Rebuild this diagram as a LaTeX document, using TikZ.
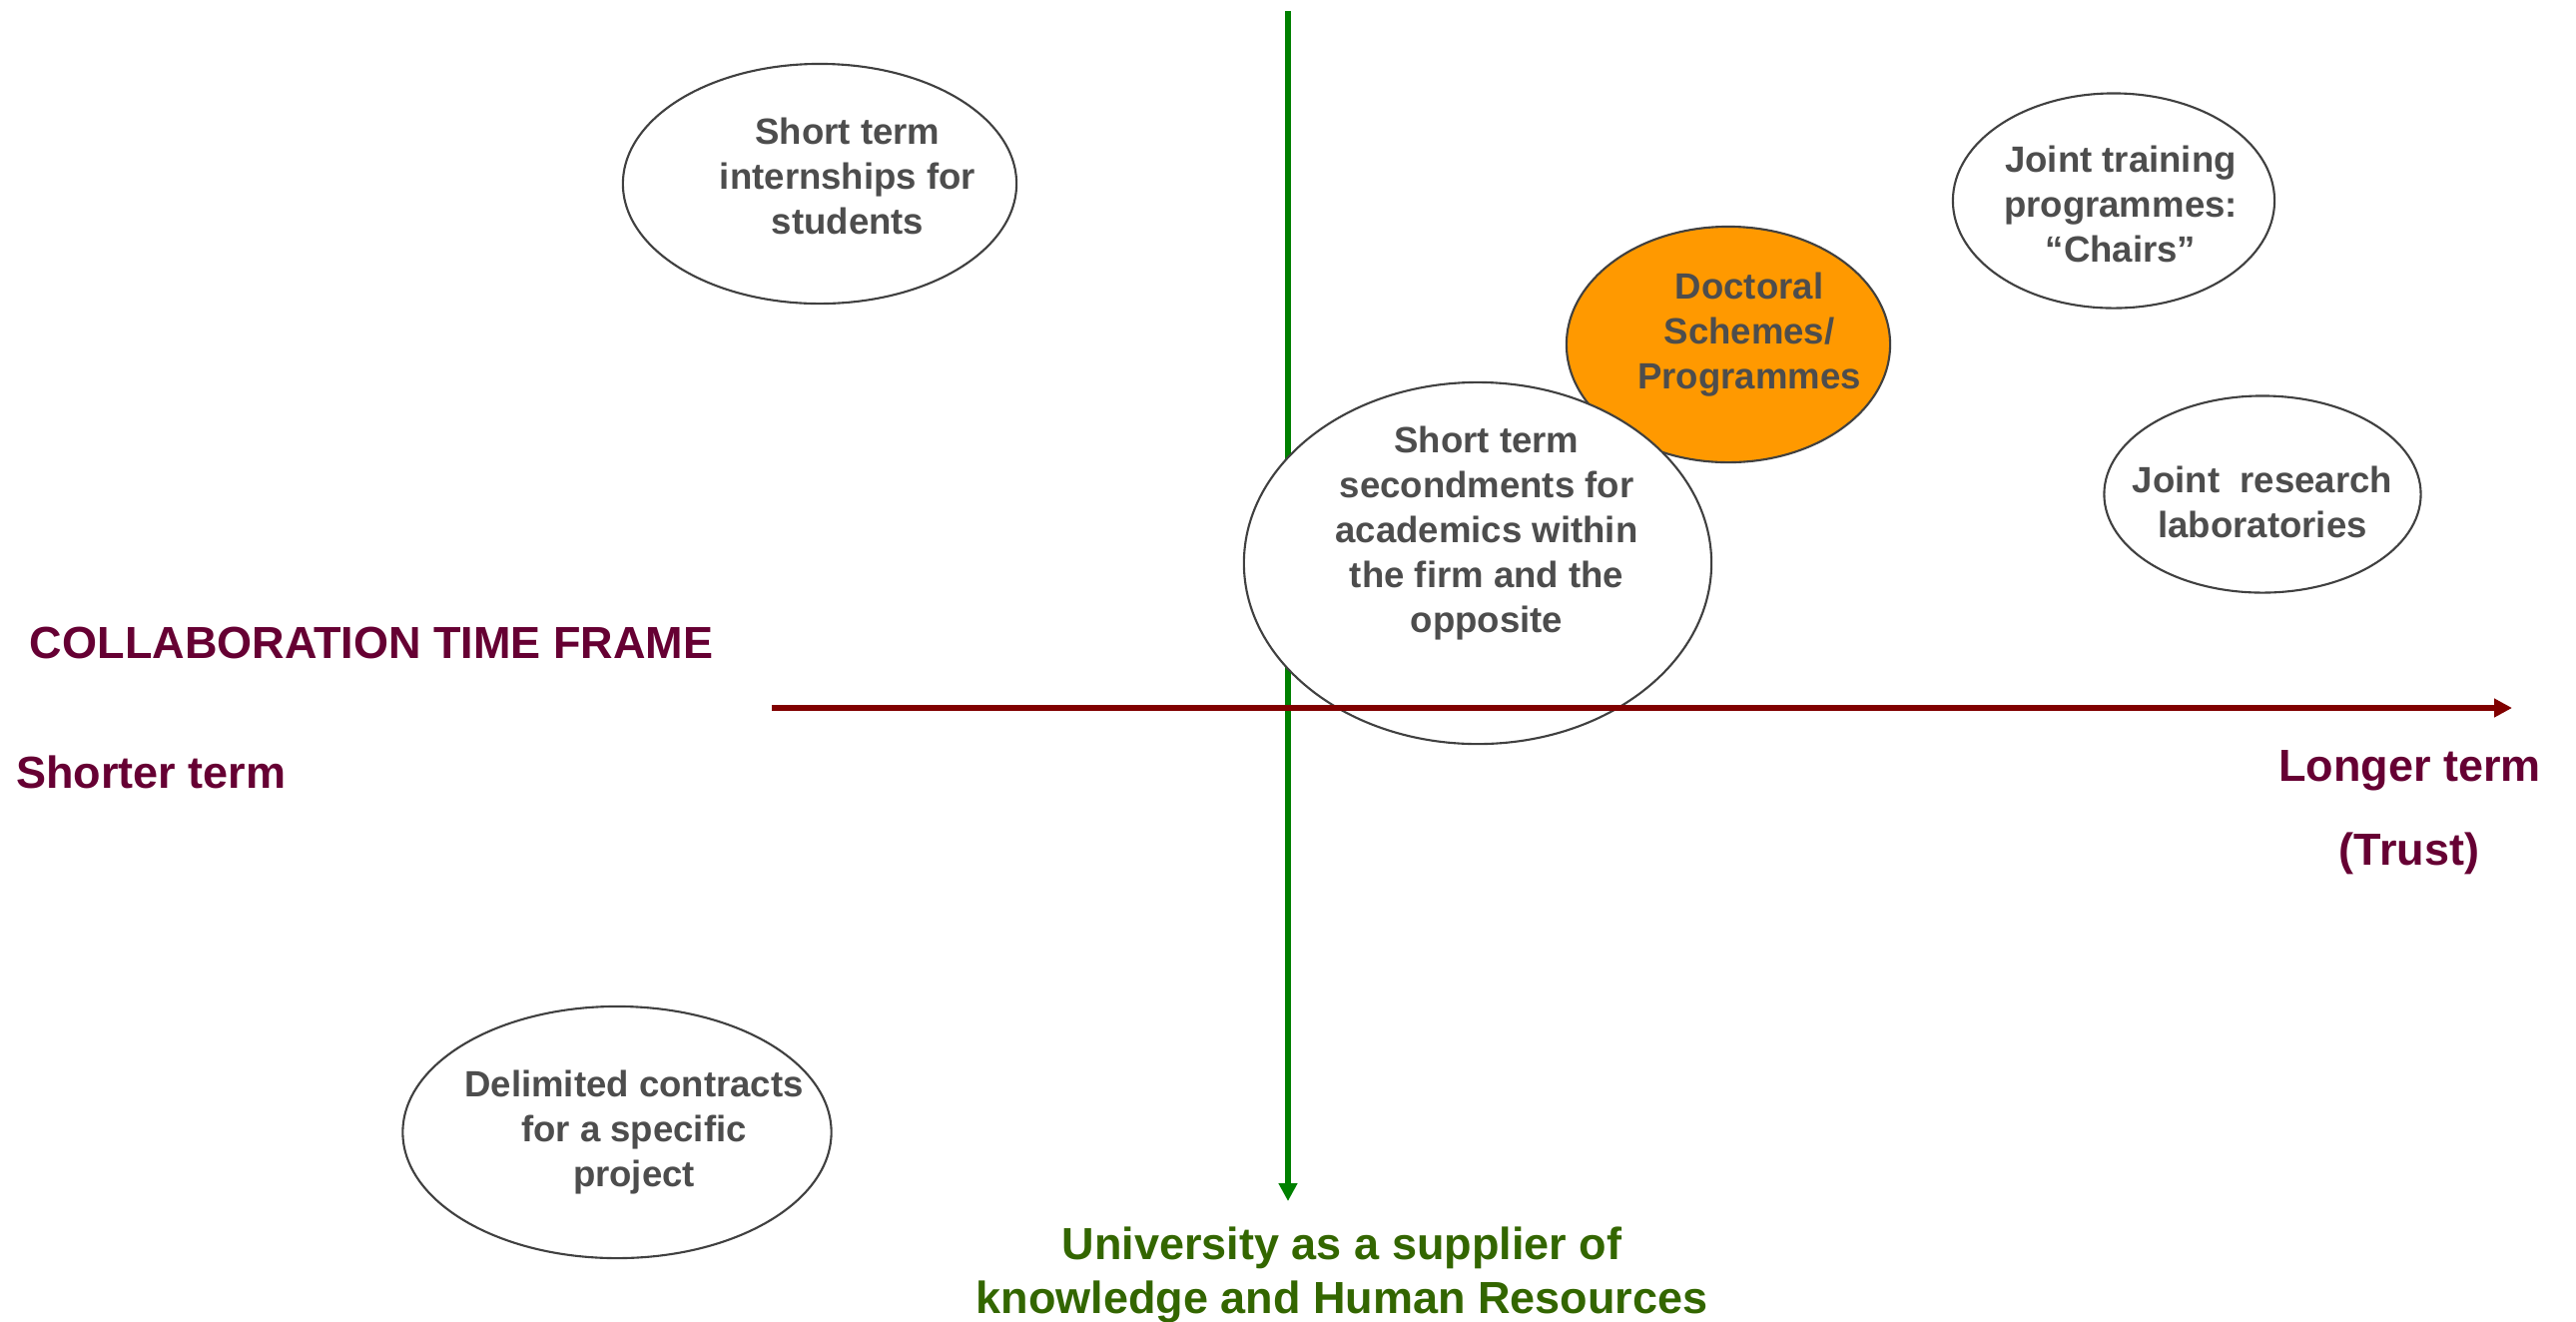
\documentclass[tikz,border=0pt]{standalone}
\usepackage{fontspec}
\setmainfont{Liberation Sans}
\usepackage{tikz}
\usetikzlibrary{positioning}
\usetikzlibrary{shapes.geometric,arrows.meta}
\usepackage{xcolor}

\definecolor{labelred}{HTML}{660033}
\definecolor{axisred}{HTML}{800000}
\definecolor{axisgreen}{HTML}{008000}
\definecolor{textgreen}{HTML}{336600}
\definecolor{bubbletext}{HTML}{4D4D4D}
\definecolor{bubbleline}{HTML}{404040}
\definecolor{doctoral}{HTML}{FF9900}

\begin{document}
\begin{tikzpicture}[x=0.01cm, y=-0.01cm,
	every node/.style={inner sep=0, outer sep=0},
	bubble/.style={ellipse, draw=bubbleline, line width=0.6pt, fill=white},
	intext/.style={align=center, text=bubbletext, font=\fontsize{10.4}{12.8}\selectfont\bfseries},
	axislabel/.style={text=labelred, font=\fontsize{12.8}{15.4}\selectfont\bfseries},
	axis/.style={line width=1.7pt, -{Triangle[width=0.18cm,length=0.18cm]}}]
		
		\useasboundingbox (0,0) rectangle (2580,1323);
		
		%Vertical axis
		\coordinate (vtop) at (1290,11);
		\coordinate (vbot) at (1290,1203);
		\draw[axis, axisgreen] (vtop) -- (vbot);
		
		%Bubbles
		\node[bubble, minimum width=3.94cm, minimum height=2.40cm] (intern) at (821,184) {};
		\node[intext] (interntext) at ([shift={(28,-8)}]intern.center) {Short term\\internships for\\students};
		
		\node[bubble, fill=doctoral, minimum width=3.24cm, minimum height=2.36cm] (doct) at (1731,345) {};
		\node[intext] (docttext) at ([shift={(21,-10)}]doct.center) {Doctoral\\Schemes/\\Programmes};
		
		\node[bubble, minimum width=4.68cm, minimum height=3.62cm] (second) at (1480,564) {};
		\node[intext] (secondtext) at ([shift={(9,-30)}]second.center) {Short term\\secondments for\\academics within\\the firm and the\\opposite};
		
		\node[bubble, minimum width=3.22cm, minimum height=2.15cm] (train) at (2117,201) {};
		\node[intext] (traintext) at ([shift={(7,3)}]train.center) {Joint training\\programmes:\\“Chairs”};
		
		\node[bubble, minimum width=3.17cm, minimum height=1.97cm] (lab) at (2266,495) {};
		\node[intext] (labtext) at ([shift={(0,8)}]lab.center) {Joint\ \ research\\laboratories};
		
		\node[bubble, minimum width=4.29cm, minimum height=2.52cm] (contract) at (618,1134) {};
		\node[intext] (contracttext) at ([shift={(17,0)}]contract.center) {Delimited contracts\\for a specific\\project};
		
		%Horizontal axis
		\coordinate (hleft) at (773,709);
		\coordinate (hright) at (2516,709);
		\draw[axis, axisred] (hleft) -- (hright);
		
		%Labels
		\node[axislabel, anchor=west] (frame) at (30,644) {COLLABORATION TIME FRAME};
		\node[axislabel, anchor=west] (shorter) at (16,773) {Shorter term};
		\node[axislabel, anchor=east] (longer) at (2545,772) {Longer term};
		\node[axislabel] (trust) at (2413,855) {(Trust)};
		\node[align=center, text=textgreen, font=\fontsize{12.8}{15.6}\selectfont\bfseries] (supplier) at (1344,1277) {University as a supplier of\\knowledge and Human Resources};
	\end{tikzpicture}
\end{document}
